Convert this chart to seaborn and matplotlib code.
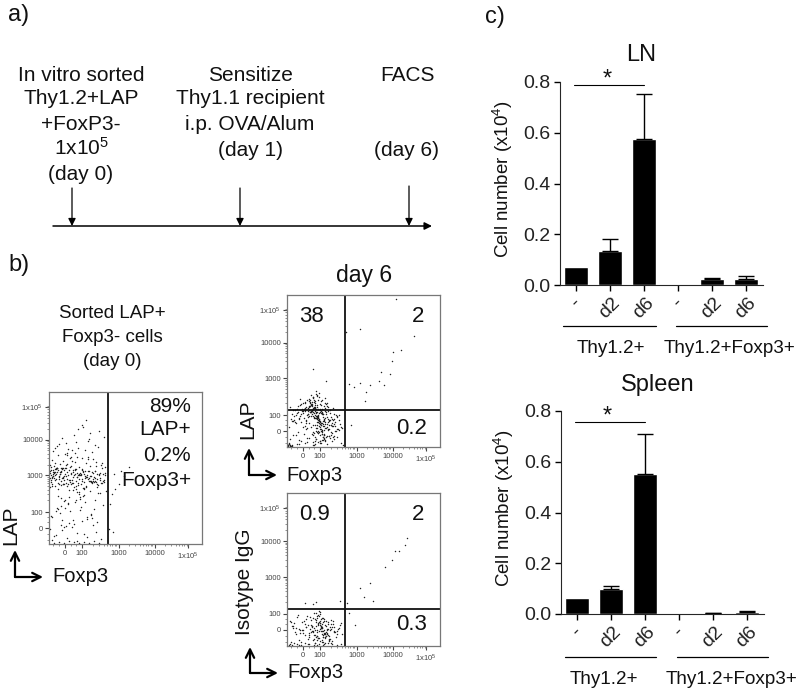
import numpy as np
import pandas as pd
import seaborn as sns
import matplotlib.pyplot as plt

# Bar values
positions = [0, 1, 2, 3, 4, 5]
day_labels = ['-', 'd2', 'd6', '-', 'd2', 'd6']
lymph_values = [0.07, 0.135, 0.575, 0.0, 0.023, 0.022]
lymph_upper = [0.07, 0.182, 0.752, 0.0, 0.028, 0.037]
spleen_values = [0.065, 0.097, 0.553, 0.0, 0.004, 0.008]
spleen_upper = [0.065, 0.11, 0.71, 0.0, 0.005, 0.01]
bar_ticks = [0.0, 0.2, 0.4, 0.6, 0.8]

# Flow plots: dot positions, in channel units
flow_x_ticks = [16, 33, 70, 106, 139]
flow_y_ticks = [16, 32, 69, 105, 138]
flow_x_labels = ['0', '100', '1000', '10000', '1x10$^5$']
flow_y_labels = ['0', '100', '1000', '10000', '1x10$^5$']

sorted_x = [
    3, 8, 14, 2, 19, 27, 33, 11, 41, 48, 6, 23, 37, 52, 16, 30, 44, 55, 9, 25,
    4, 13, 21, 35, 46, 1, 18, 29, 39, 50, 7, 24, 32, 43, 54, 12, 20, 36, 47, 10,
    5, 15, 26, 34, 42, 2, 17, 28, 38, 51, 8, 22, 31, 45, 56, 3, 13, 27, 40, 49,
    6, 19, 33, 44, 53, 1, 11, 24, 36, 48, 9, 16, 30, 41, 57, 4, 21, 35, 46, 14,
    2, 7, 17, 26, 38, 47, 12, 5, 31, 20, 42, 1, 52, 9, 24, 35, 15, 44, 3, 28,
    10, 25, 39, 18, 50, 6, 33, 22, 13, 46, 29, 4, 37, 55, 16, 8, 41, 27, 19, 34,
    3, 12, 23, 32, 44, 7, 18, 29, 40, 51, 1, 14, 26, 36, 48, 5, 21, 30, 43, 54,
    9, 17, 28, 37, 49, 2, 11, 24, 34, 46, 6, 20, 31, 42, 53, 4, 15, 27, 39, 56,
    60, 64, 70, 72, 75, 80, 63, 61, 66, 65,
    2, 4, 6, 3, 1, 5, 8, 7, 2, 10, 4, 12, 3, 6, 14, 1, 9, 5, 16, 7,
    11, 23, 34, 45, 15, 29, 38, 51, 19, 26, 41, 8, 33, 22, 48, 12, 36, 55, 17, 28,
    20, 31, 42, 13, 25, 37, 46, 10, 30, 18, 40, 53, 24, 35, 15, 43, 27, 21, 32, 50,
    14, 28, 39, 9, 22, 35, 47, 18, 30, 44, 12, 26, 37, 52, 16, 33, 41, 6, 23, 49,
    19, 32, 45, 11, 27, 38, 54, 21, 34, 13, 29, 42, 17, 36, 48, 8, 25, 40, 15, 31,
    24, 10, 35, 46, 20, 30, 43, 14, 28, 51, 17, 39, 33, 22, 12, 47, 26, 37, 56, 18,
    5, 10, 15, 20, 25, 30, 35, 40, 45, 50, 7, 13, 18, 23, 28, 33, 38, 43, 12, 3,
]
sorted_y = [
    66, 72, 60, 78, 69, 55, 74, 81, 63, 70, 58, 84, 67, 61, 76, 52, 71, 64, 90, 57,
    68, 75, 62, 49, 73, 80, 65, 59, 86, 70, 77, 54, 69, 93, 63, 72, 47, 66, 79, 60,
    71, 64, 83, 56, 68, 74, 61, 88, 67, 51, 76, 70, 45, 62, 78, 85, 66, 58, 73, 98,
    69, 40, 75, 63, 82, 57, 72, 67, 95, 60, 74, 36, 65, 79, 53, 70, 87, 62, 44, 77,
    28, 33, 18, 42, 25, 12, 38, 8, 47, 21, 30, 15, 5, 35, 24, 10, 43, 19, 27, 3,
    101, 110, 104, 92, 114, 97, 120, 88, 107, 100, 116, 94, 125, 108, 91, 99, 112, 103, 96, 118,
    67, 73, 61, 70, 65, 75, 58, 69, 63, 71, 66, 60, 74, 68, 57, 72, 64, 78, 62, 70,
    55, 76, 67, 82, 59, 64, 70, 61, 73, 66, 72, 54, 69, 63, 77, 68, 60, 75, 65, 71,
    15, 12, 60, 73, 68, 78, 50, 40, 55, 70,
    69, 74, 64, 60, 71, 66, 76, 70, 62, 68, 72, 63, 58, 75, 67, 73, 61, 79, 70, 65,
    70, 64, 72, 67, 74, 61, 69, 66, 60, 75, 68, 77, 63, 71, 65, 59, 73, 62, 80, 67,
    64, 71, 62, 76, 69, 58, 73, 65, 70, 81, 66, 61, 74, 56, 68, 72, 63, 78, 60, 69,
    84, 52, 88, 48, 79, 55, 83, 90, 50, 86, 46, 92, 57, 80, 44, 87, 53, 82, 95, 51,
    41, 37, 35, 31, 44, 27, 39, 33, 48, 24, 97, 29, 102, 42, 22, 36, 20, 106, 17, 34,
    72, 67, 70, 63, 74, 69, 61, 66, 71, 64, 68, 73, 65, 60, 76, 62, 70, 67, 69, 72,
    1, 2, 1, 3, 2, 1, 2, 1, 3, 1, 9, 14, 6, 17, 11, 23, 7, 26, 19, 4,
]

lap_x = [
    30, 25, 38, 34, 42, 20, 28, 36, 32, 45, 15, 27, 40, 33, 23, 48, 18, 31, 37, 26,
    35, 22, 43, 29, 39, 12, 33, 47, 24, 30, 41, 19, 36, 28, 52, 16, 34, 26, 44, 31,
    8, 21, 38, 29, 50, 13, 35, 25, 42, 32, 4, 17, 46, 27, 37, 10, 33, 23, 55, 30,
    6, 40, 19, 35, 28, 49, 14, 32, 24, 43, 3, 37, 21, 30, 53, 11, 26, 39, 34, 46,
    2, 18, 29, 41, 9, 33, 25, 51, 16, 36, 7, 28, 44, 22, 31, 5, 38, 13, 47, 27,
    35, 20, 30, 42, 24, 37, 17, 32, 26, 40, 29, 34, 22, 45, 28, 15, 36, 31, 48, 19,
    33, 27, 38, 23, 41, 30, 18, 35, 25, 44, 12, 32, 28, 39, 21, 46, 34, 9, 29, 37,
    24, 43, 31, 16, 36, 26, 50, 20, 33, 40, 27, 11, 35, 23, 30, 42, 6, 38, 28, 54,
    32, 25, 47, 19, 34, 29, 14, 41, 22, 36, 30, 8, 26, 44, 33, 17, 38, 24, 31, 52,
    35, 28, 21, 40, 13, 33, 27, 45, 30, 18, 37, 23, 5, 34, 29, 42, 26, 10, 32, 49,
    109, 73, 59, 127, 114, 106, 105, 103, 94, 92, 97, 83, 73, 67, 62, 79, 78, 64, 26, 39,
    31, 36, 27, 34, 29, 38, 25, 33, 30, 41, 28, 35, 24, 32, 37, 26, 39, 31, 22, 43,
    29, 34, 20, 36, 27, 45, 33, 23, 38, 30, 18, 35, 26, 41, 32, 47, 28, 37, 24, 31,
    16, 33, 40, 25, 35, 12, 29, 44, 22, 37, 31, 19, 27, 48, 34, 9, 38, 26, 42, 30,
    36, 21, 32, 7, 28, 50, 39, 24, 14, 33, 46, 29, 18, 35, 26, 52, 30, 11, 37, 23,
    3, 6, 10, 14, 18, 22, 26, 31, 35, 40, 45, 50, 54, 5, 12, 20, 28, 38, 47, 56,
    1, 2, 4, 1, 3, 2, 1, 5, 2, 3, 25, 31, 28, 34, 22, 37, 30, 26, 33, 29,
]
lap_y = [
    30, 42, 25, 36, 18, 47, 22, 33, 50, 28, 38, 14, 41, 26, 35, 21, 45, 31, 12, 39,
    24, 48, 34, 16, 43, 29, 37, 23, 52, 19, 40, 27, 10, 44, 32, 20, 46, 35, 15, 38,
    25, 33, 49, 8, 30, 42, 17, 36, 22, 54, 28, 13, 39, 45, 26, 34, 6, 41, 19, 31,
    37, 11, 24, 47, 32, 16, 43, 28, 35, 9, 40, 21, 30, 51, 23, 15, 38, 33, 4, 27,
    20, 44, 29, 36, 12, 25, 41, 18, 34, 7, 31, 46, 22, 37, 14, 26, 39, 48, 11, 30,
    33, 19, 42, 27, 35, 13, 38, 24, 5, 44, 31, 16, 40, 21, 29, 36, 10, 47, 25, 18,
    12, 34, 7, 41, 28, 22, 37, 15, 45, 30, 3, 26, 39, 19, 33, 10, 24, 32, 56, 17,
    43, 27, 14, 36, 21, 49, 31, 9, 38, 23, 29, 41, 16, 35, 52, 11, 26, 44, 6, 20,
    34, 13, 28, 40, 22, 8, 33, 18, 46, 30, 25, 37, 50, 12, 4, 29, 23, 42, 16, 27,
    35, 10, 39, 20, 31, 43, 2, 24, 15, 36, 28, 47, 33, 18, 53, 26, 12, 38, 21, 32,
    149, 119, 116, 112, 98, 96, 87, 73, 75, 66, 62, 62, 64, 60, 63, 55, 46, 22, 79, 66,
    27, 33, 40, 22, 29, 36, 43, 18, 31, 25, 38, 34, 20, 28, 41, 15, 35, 30, 24, 37,
    19, 42, 32, 26, 39, 14, 23, 45, 29, 35, 21, 38, 31, 17, 27, 33, 40, 12, 36, 25,
    44, 20, 30, 37, 13, 28, 35, 22, 41, 9, 32, 26, 47, 16, 34, 24, 19, 38, 11, 29,
    23, 36, 15, 27, 42, 18, 10, 31, 25, 6, 21, 34, 39, 13, 50, 17, 28, 35, 8, 44,
    8, 12, 3, 6, 4, 9, 2, 5, 7, 3, 6, 10, 4, 2, 7, 5, 3, 6, 8, 2,
    1, 3, 1, 2, 1, 4, 2, 1, 3, 2, 33, 29, 36, 24, 31, 27, 40, 22, 35, 38,
]

iso_x = [
    35, 30, 38, 28, 41, 33, 25, 36, 44, 31, 22, 39, 34, 27, 47, 18, 37, 32, 42, 29,
    12, 35, 24, 45, 33, 8, 38, 30, 50, 21, 36, 15, 41, 27, 34, 5, 43, 31, 26, 54,
    37, 19, 32, 46, 23, 39, 10, 35, 28, 48, 3, 33, 40, 25, 30, 16, 44, 36, 20, 52,
    31, 38, 13, 34, 27, 42, 7, 35, 29, 47, 24, 37, 33, 17, 55, 40, 30, 11, 26, 36,
    43, 32, 21, 38, 6, 29, 49, 34, 14, 41, 28, 35, 23, 51, 31, 9, 37, 19, 45, 33,
    26, 39, 30, 4, 42, 16, 34, 28, 53, 36, 22, 32, 12, 46, 38, 25, 29, 40, 18, 35,
    120, 118, 112, 108, 105, 98, 83, 73, 77, 86, 60, 53, 29, 18, 26, 62, 68,
    34, 37, 31, 39, 35, 33, 41, 29, 36, 38, 32, 43, 30, 35, 27, 40, 34, 37, 25, 33,
    22, 44, 36, 28, 47, 19, 31, 39, 13, 35, 24, 42, 9, 33, 50, 26, 15, 38, 30, 6,
    2, 3, 5, 7, 10, 14, 18, 22, 27, 32, 36, 41, 45, 50, 54, 4, 12, 21, 30, 44,
]
iso_y = [
    18, 14, 21, 16, 11, 25, 19, 9, 17, 23, 13, 20, 27, 7, 15, 22, 12, 30, 10, 24,
    17, 6, 26, 19, 32, 14, 9, 28, 12, 21, 4, 16, 24, 11, 18, 20, 7, 31, 15, 23,
    13, 27, 8, 22, 17, 10, 29, 19, 3, 14, 25, 34, 12, 20, 6, 16, 26, 11, 30, 18,
    22, 8, 13, 15, 33, 5, 23, 28, 9, 19, 14, 2, 21, 25, 12, 17, 10, 31, 6, 24,
    16, 35, 7, 13, 18, 26, 9, 20, 4, 22, 11, 15, 29, 17, 8, 12, 27, 19, 5, 23,
    14, 10, 30, 24, 7, 13, 18, 3, 21, 28, 9, 15, 6, 25, 12, 20, 33, 16, 11, 4,
    108, 101, 95, 95, 86, 79, 63, 58, 49, 45, 43, 45, 44, 43, 42, 33, 21,
    19, 16, 21, 14, 18, 23, 17, 20, 15, 12, 24, 19, 16, 22, 18, 13, 20, 25, 15, 17,
    11, 22, 9, 27, 14, 19, 8, 25, 16, 12, 21, 6, 18, 5, 15, 28, 24, 3, 10, 20,
    1, 2, 1, 3, 2, 1, 3, 2, 1, 2, 1, 3, 2, 1, 2, 4, 1, 2, 1, 3,
]

sns.set_style('ticks')
plt.rcParams['font.family'] = ['Liberation Sans', 'DejaVu Sans']
plt.rcParams['mathtext.default'] = 'regular'

fig = plt.figure(figsize=(8, 6.94), dpi=100)


# Axes from pixel edges of the figure
def place(left, top, right, bottom):
    return fig.add_axes([left / 800, 1 - bottom / 694, (right - left) / 800, (bottom - top) / 694])


def bar_panel(box, values, upper, sig_y):
    ax = place(*box)
    frame = pd.DataFrame({'pos': positions, 'value': values})
    sns.barplot(data=frame, x='pos', y='value', native_scale=True, color='black',
                saturation=1, width=0.72, errorbar=None, ax=ax)
    # only the upper whisker shows, and only where there is one
    tops = np.array(upper) - np.array(values)
    keep = tops > 0
    ax.errorbar(np.array(positions)[keep], np.array(upper)[keep], yerr=[tops[keep], np.zeros(keep.sum())],
                fmt='none', ecolor='black', elinewidth=1, capsize=6, capthick=1)
    ax.plot([-0.05, 2], [sig_y, sig_y], color='black', lw=0.8, clip_on=False)
    ax.set_xlim(-0.47, 5.5)
    ax.set_ylim(0, 0.8)
    ax.set_xticks(positions)
    ax.set_xticklabels(day_labels, rotation=45, ha='center', fontsize=14, color='#222222')
    ax.set_yticks(bar_ticks)
    ax.set_yticklabels([f'{v:.1f}' for v in bar_ticks], fontsize=14, color='#222222')
    ax.tick_params(axis='both', length=4, width=1, pad=3, color='black')
    ax.set_xlabel('')
    ax.set_ylabel('Cell number (x10$^{4}$)', fontsize=13.5, labelpad=6, color='#111111', y=0.52)
    sns.despine(ax=ax)
    return ax


def flow_panel(box, xs, ys, gate_x, gate_y=None):
    ax = place(*box)
    sns.scatterplot(x=xs, y=ys, s=1.1, color='#222222', linewidth=0, ax=ax)
    ax.axvline(gate_x, color='#111111', lw=1.3)
    if gate_y is not None:
        ax.axhline(gate_y, color='#111111', lw=1.3)
    ax.set_xlim(0, 153)
    ax.set_ylim(0, 153)
    ax.set_xticks(flow_x_ticks)
    ax.set_xticklabels(flow_x_labels, fontsize=5.5, color='#444444')
    ax.set_yticks(flow_y_ticks)
    ax.set_yticklabels(flow_y_labels, fontsize=5.5, color='#444444')
    minor = [b + 36 * np.log10(k) for b in (33, 69, 105) for k in range(2, 10)]
    ax.set_xticks(minor + [4, 10, 22, 27], minor=True)
    ax.set_yticks(minor + [4, 10, 22, 27], minor=True)
    ax.tick_params(which='major', length=3, width=0.8, pad=1.5, color='#444444')
    ax.tick_params(which='minor', length=1.5, width=0.5, color='#666666')
    for spine in ax.spines.values():
        spine.set_color('#777777')
        spine.set_linewidth(0.9)
    return ax


bar_panel((560, 82, 763, 285), lymph_values, lymph_upper, 0.788)
bar_panel((561, 411, 764, 614), spleen_values, spleen_upper, 0.757)
flow_panel((49, 392, 202, 544), sorted_x, sorted_y, 59)
flow_panel((287, 295, 440, 447), lap_x, lap_y, 58, 37)
flow_panel((287, 493, 440, 646), iso_x, iso_y, 58, 37)

# Overlay in pixel coordinates for the labels and arrows
over = fig.add_axes([0, 0, 1, 1])
over.set_xlim(0, 800)
over.set_ylim(694, 0)
over.axis('off')
over.patch.set_alpha(0)


def label(x, y, s, size=13, ha='center', **kw):
    over.text(x, y, s, fontsize=size, ha=ha, va='center', color='#111111', **kw)


for x, y, s in [(19, 15, 'a)'), (19, 265, 'b)'), (495, 17, 'c)')]:
    label(x, y, s, size=17)

for y, s in [(75, 'In vitro sorted'), (98, 'Thy1.2+LAP'), (124, '+FoxP3-'),
             (148, '1x10$^5$'), (174, '(day 0)')]:
    label(81, y, s, size=15)
for y, s in [(75, 'Sensitize'), (98, 'Thy1.1 recipient'), (124, 'i.p. OVA/Alum'),
             (150, '(day 1)')]:
    label(250, y, s, size=15)
for y, s in [(75, 'FACS'), (150, '(day 6)')]:
    label(407, y, s, size=15)

over.annotate('', xy=(432, 226), xytext=(53, 226),
              arrowprops=dict(arrowstyle='-|>', color='black', lw=1.1, mutation_scale=11,
                              shrinkA=0, shrinkB=0))
for x, top in [(72, 188), (240, 188), (409, 186)]:
    over.annotate('', xy=(x, 226), xytext=(x, top),
                  arrowprops=dict(arrowstyle='-|>', color='black', lw=0.9, mutation_scale=11,
                                  shrinkA=0, shrinkB=0))

for y, s in [(313, 'Sorted LAP+'), (337, 'Foxp3- cells'), (361, '(day 0)')]:
    label(112, y, s, size=13.5)
label(364, 275, 'day 6', size=16.5)

for y, s in [(406, '89%'), (429, 'LAP+'), (455, '0.2%'), (480, 'Foxp3+')]:
    label(191, y, s, size=15, ha='right')

for x, y, s in [(311, 316, '38'), (418, 316, '2'), (412, 428, '0.2'),
                (314, 514, '0.9'), (418, 514, '2'), (412, 625, '0.3')]:
    label(x, y, s, size=16)

for cx, cy, up, right, name_x, name_y, name in [
        (15, 577, 550, 43, 11, 525, 'LAP'),
        (249, 475, 448, 277, 248, 419, 'LAP'),
        (250, 673, 647, 278, 245, 582, 'Isotype IgG')]:
    for tip in [(cx, up), (right, cy)]:
        over.annotate('', xy=tip, xytext=(cx, cy),
                      arrowprops=dict(arrowstyle='->', color='black', lw=1.6, mutation_scale=15,
                                      shrinkA=0, shrinkB=0))
    label(right + 9, cy, 'Foxp3', size=14.5, ha='left')
    label(name_x, name_y, name, size=15, rotation=90)

# c) panel titles, stars, group brackets
label(641, 55, 'LN', size=17)
label(658, 385, 'Spleen', size=17)
label(607, 80, '*', size=17)
label(607, 417, '*', size=17)
for y, spans in [(326, [(563, 656), (676, 767)]), (657, [(565, 656), (677, 768)])]:
    for a, b in spans:
        over.plot([a, b], [y, y], color='black', lw=0.9)
for x, y, s in [(611, 348, 'Thy1.2+'), (729, 348, 'Thy1.2+Foxp3+'),
                (604, 680, 'Thy1.2+'), (732, 680, 'Thy1.2+Foxp3+')]:
    label(x, y, s, size=13.6)

fig.savefig('out.png', dpi=100)
